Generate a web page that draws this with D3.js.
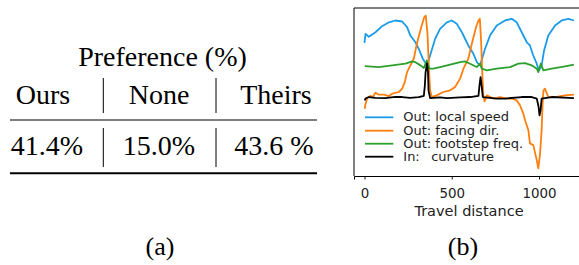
<!DOCTYPE html>
<html>
<head>
<meta charset="utf-8">
<script src="https://cdn.jsdelivr.net/npm/d3@7/dist/d3.min.js"></script>
<style>
  html, body { margin: 0; padding: 0; background: #fff; }
  svg { display: block; }
</style>
</head>
<body>
<svg id="chart" width="579" height="265"></svg>
<script>
// ---------- Table (a) data ----------
const tableTitle = "Preference (%)";
const tableHeaders = ["Ours", "None", "Theirs"];
const tableValues = ["41.4%", "15.0%", "43.6 %"];

// ---------- Chart (b) data: [travel distance, normalised value] ----------
const xTicks = [0, 500, 1000];
const seriesNames = ["Out: local speed", "Out: facing dir.", "Out: footstep freq.", "In:"];
const seriesColors = ["#1b9ce8", "#ff7f0e", "#2ca02c", "#000000"];

const localSpeed = [
  [0,7.95],[6,8.49],[25,8.32],[63,8.59],[101,8.95],[140,9.18],[177,9.29],[216,9.23],
  [244,8.89],[263,8.39],[292,7.99],[311,7.60],[334,7.01],[359,6.61],[376,7.20],[405,8.20],
  [433,8.79],[472,9.18],[500,9.29],[529,9.09],[558,8.59],[576,8.20],[595,7.80],[624,7.30],
  [645,6.79],[662,6.61],[691,7.60],[719,8.39],[758,8.99],[805,9.29],[844,9.39],[872,9.18],
  [901,8.59],[930,7.99],[948,7.80],[967,7.20],[987,6.71],[999,6.31],[1014,6.55],[1029,7.50],
  [1053,8.39],[1092,8.99],[1130,9.29],[1168,9.39],[1200,9.29]
];
const facingDir = [
  [1,4.02],[6,4.29],[15,4.63],[34,4.79],[48,4.72],[63,4.98],[82,4.86],[111,4.86],[140,4.78],
  [159,4.92],[197,5.02],[216,5.22],[231,5.61],[244,6.21],[263,6.61],[283,7.02],[300,7.90],
  [325,8.89],[342,9.48],[351,9.58],[361,8.51],[369,6.51],[376,5.12],[386,4.72],[414,4.82],
  [452,5.02],[491,5.12],[519,5.32],[548,5.82],[567,6.41],[595,7.01],[615,7.90],[639,8.89],
  [653,9.29],[661,9.39],[668,8.10],[675,6.11],[681,4.82],[688,4.46],[701,4.82],[738,4.63],
  [777,4.72],[815,4.63],[844,4.63],[872,4.52],[891,4.23],[910,3.73],[920,3.33],[939,2.74],
  [948,1.95],[967,1.85],[987,0.95],[996,0.46],[1006,1.35],[1015,2.74],[1019,3.93],[1023,4.82],
  [1026,5.12],[1034,5.22],[1053,4.72],[1092,4.72],[1149,4.82],[1200,4.86]
];
const footstepFreq = [
  [2,6.57],[82,6.51],[159,6.61],[235,6.71],[273,6.85],[292,6.80],[321,6.61],[340,6.45],
  [357,6.90],[372,6.41],[395,6.41],[433,6.51],[491,6.65],[548,6.80],[576,6.85],[605,6.71],
  [643,6.51],[662,6.71],[672,6.41],[701,6.31],[758,6.41],[834,6.51],[882,6.71],[920,6.75],
  [958,6.61],[987,6.41],[996,6.21],[1010,6.71],[1025,6.31],[1073,6.41],[1149,6.55],[1200,6.65]
];
const curvature = [
  [1,4.52],[6,4.63],[25,4.72],[61,4.67],[120,4.66],[176,4.73],[216,4.72],[262,4.67],
  [311,4.72],[340,4.79],[346,5.42],[350,6.19],[358,6.73],[364,6.19],[367,5.12],[376,4.66],
  [433,4.70],[472,4.66],[548,4.70],[605,4.72],[653,4.79],[659,5.42],[665,5.91],[671,5.42],
  [678,4.72],[758,4.63],[805,4.63],[901,4.72],[958,4.72],[987,4.63],[997,4.17],[1003,3.63],
  [1009,3.93],[1015,4.63],[1073,4.72],[1200,4.66]
];
const allSeries = [localSpeed, facingDir, footstepFreq, curvature];

const svg = d3.select("#chart");

// ---------- Table (a) ----------
const serif = "'Liberation Serif', 'Times New Roman', serif";
const tbl = svg.append("g");
const colX = d3.scaleOrdinal().domain([0,1,2]).range([43, 159, 276]);
const valX = d3.scaleOrdinal().domain([0,1,2]).range([47, 159, 274]);

tbl.append("text").attr("x", 162.5).attr("y", 66).attr("text-anchor", "middle")
  .style("font-family", serif).style("font-size", "28px").text(tableTitle);
tbl.selectAll("text.h").data(tableHeaders).join("text").attr("class", "h")
  .attr("x", (d, i) => colX(i)).attr("y", 104).attr("text-anchor", "middle")
  .style("font-family", serif).style("font-size", "28px").text(d => d);
tbl.selectAll("text.v").data(tableValues).join("text").attr("class", "v")
  .attr("x", (d, i) => valX(i)).attr("y", 155).attr("text-anchor", "middle")
  .style("font-family", serif).style("font-size", "28px").text(d => d);
[103.3, 216].forEach(x => {
  tbl.append("line").attr("x1", x).attr("x2", x).attr("y1", 78).attr("y2", 113).attr("stroke", "#000").attr("stroke-width", 1);
  tbl.append("line").attr("x1", x).attr("x2", x).attr("y1", 128).attr("y2", 167).attr("stroke", "#000").attr("stroke-width", 1);
});
tbl.append("line").attr("x1", 10).attr("x2", 317).attr("y1", 120).attr("y2", 120).attr("stroke", "#000").attr("stroke-width", 1.2);
tbl.append("line").attr("x1", 10).attr("x2", 317).attr("y1", 173.3).attr("y2", 173.3).attr("stroke", "#000").attr("stroke-width", 2);

// ---------- Chart (b) ----------
const sans = "'DejaVu Sans', sans-serif";
const xMin = 0, xMax = 1200;
const xPad = (xMax - xMin) * 0.05;
const x = d3.scaleLinear().domain([xMin - xPad, xMax + xPad]).range([354, 584.4]);
const allY = allSeries.flat().map(d => d[1]);
const [yLo, yHi] = d3.extent(allY);
const yPad = (yHi - yLo) * 0.05;
const y = d3.scaleLinear().domain([yLo - yPad, yHi + yPad]).range([176, 8]);

const plot = svg.append("g");
const line = d3.line().x(d => x(d[0])).y(d => y(d[1]));
allSeries.forEach((s, i) => {
  plot.append("path").datum(s).attr("d", line).attr("fill", "none")
    .attr("stroke", seriesColors[i]).attr("stroke-width", 1.8).attr("stroke-linejoin", "round");
});

// spines
plot.append("line").attr("x1", 354).attr("x2", 354).attr("y1", 8).attr("y2", 176).attr("stroke", "#000").attr("stroke-width", 1);
plot.append("line").attr("x1", 354).attr("x2", 585).attr("y1", 8).attr("y2", 8).attr("stroke", "#000").attr("stroke-width", 1);

const xAxis = svg.append("g").attr("transform", "translate(0,176)")
  .call(d3.axisBottom(x).tickValues(xTicks).tickSize(3.5).tickFormat(d3.format("d")));
xAxis.select(".domain").attr("stroke", "#000").attr("stroke-width", 1);
xAxis.selectAll(".tick line").attr("stroke", "#000").attr("stroke-width", 0.9);
xAxis.selectAll(".tick text").attr("y", 22.3).attr("dy", null)
  .style("font-family", sans).style("font-size", "13.4px").attr("fill", "#222");

svg.append("text").attr("x", 469).attr("y", 216).attr("text-anchor", "middle")
  .style("font-family", sans).style("font-size", "14.5px").attr("fill", "#222").text("Travel distance");

// legend (glyphs slightly widened, as in the reference)
const legY = [117.3, 130.7, 143.7, 156.7];
const legFont = 11.4, stretch = 1.14;
const leg = svg.append("g");
function legText(str, xx, yy) {
  const t = leg.append("text").attr("x", xx).attr("y", yy).attr("dy", "0.36em")
    .style("font-family", sans).style("font-size", legFont + "px").attr("fill", "#222").text(str);
  const w = t.node().getComputedTextLength();
  t.attr("textLength", w * stretch).attr("lengthAdjust", "spacingAndGlyphs");
  return w * stretch;
}
seriesNames.forEach((name, i) => {
  leg.append("line").attr("x1", 365).attr("x2", 393.3).attr("y1", legY[i]).attr("y2", legY[i])
    .attr("stroke", seriesColors[i]).attr("stroke-width", 1.8);
  legText(name, 403.3, legY[i]);
});
const probe = leg.append("text").style("font-family", sans).style("font-size", legFont + "px").text("Out: ");
const off = probe.node().getComputedTextLength() * stretch;
probe.remove();
legText("curvature", 403.3 + off, legY[3]);

// captions
svg.append("text").attr("x", 160).attr("y", 255).attr("text-anchor", "middle")
  .style("font-family", serif).style("font-size", "26px").text("(a)");
svg.append("text").attr("x", 463).attr("y", 255).attr("text-anchor", "middle")
  .style("font-family", serif).style("font-size", "26px").text("(b)");
</script>
</body>
</html>
